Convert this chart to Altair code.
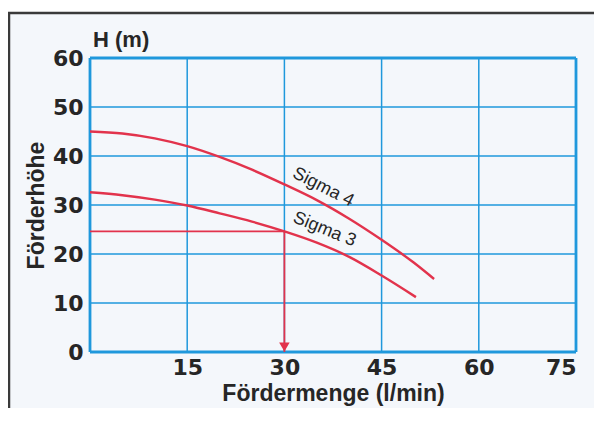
import altair as alt
import pandas as pd

# ---- data ----
sigma4_x = [0, 5, 10, 15, 20, 25, 30, 35, 40, 45, 50, 53.1]
sigma4_y = [45.0, 44.6, 43.6, 42.0, 39.8, 37.2, 34.2, 31.0, 27.2, 22.9, 18.2, 14.9]
sigma3_x = [0, 5, 10, 15, 20, 25, 30, 35, 40, 45, 50.3]
sigma3_y = [32.6, 32.0, 31.1, 29.9, 28.3, 26.6, 24.6, 22.3, 19.4, 15.6, 11.2]

duty_q = 30      # l/min
duty_h = 24.6    # m

x_grid = [0, 15, 30, 45, 60, 75]
y_grid = [0, 10, 20, 30, 40, 50, 60]
x_labels = [15, 30, 45, 60, 75]
y_labels = [0, 10, 20, 30, 40, 50, 60]

curve_names = ["Sigma 4", "Sigma 3"]
label_x = [36.0, 36.2]
label_y = [33.6, 25.0]
label_angle = [27, 22]

y_unit = "H (m)"

# ---- styles ----
BLUE = "#1f98dc"
RED = "#e2334c"
INK = "#262626"
BG = "#f4f7fb"
FONT = "Liberation Sans"
NUMFONT = "DejaVu Sans"

W, H = 486, 294

curves = pd.DataFrame(
    [{"name": "Sigma 4", "q": q, "h": h} for q, h in zip(sigma4_x, sigma4_y)]
    + [{"name": "Sigma 3", "q": q, "h": h} for q, h in zip(sigma3_x, sigma3_y)]
)
labels = pd.DataFrame({"name": curve_names, "q": label_x, "h": label_y, "angle": label_angle})

xs = alt.Scale(domain=[0, 75], nice=False, zero=False)
ys = alt.Scale(domain=[0, 60], nice=False, zero=False)

x_axis = alt.Axis(
    values=x_labels, grid=False, domain=False, ticks=False, labelPadding=5,
    labelFont=NUMFONT, labelFontSize=22, labelFontWeight="bold", labelColor=INK,
    title="Fördermenge (l/min)", titleFont=FONT, titleFontSize=23, titleFontWeight=900,
    titleColor=INK, titlePadding=4, zindex=1,
)
y_axis = alt.Axis(
    values=y_labels, grid=False, domain=False, ticks=False, labelPadding=7,
    labelFont=NUMFONT, labelFontSize=22, labelFontWeight="bold", labelColor=INK,
    title="Förderhöhe", titleFont=FONT, titleFontSize=23, titleFontWeight=900,
    titleColor=INK, titlePadding=4, zindex=1,
)

one = pd.DataFrame({"a": [0]})

# outer frame / background panel
frame = alt.Chart(one).mark_rect(fill=BG, stroke="#3a3a3a", strokeWidth=2.5).encode(
    x=alt.value(-81), x2=alt.value(W + 200), y=alt.value(-45), y2=alt.value(H + 200)
)

vgrid = alt.Chart(pd.DataFrame({"q": x_grid})).mark_rule(color=BLUE, strokeWidth=1.5).encode(
    x=alt.X("q:Q", scale=xs, axis=x_axis),
    y=alt.value(0), y2=alt.value(H),
)
hgrid = alt.Chart(pd.DataFrame({"h": y_grid})).mark_rule(color=BLUE, strokeWidth=1.5).encode(
    y=alt.Y("h:Q", scale=ys, axis=y_axis),
    x=alt.value(0), x2=alt.value(W),
)
vborder = alt.Chart(pd.DataFrame({"q": [x_grid[0], x_grid[-1]]})).mark_rule(color=BLUE, strokeWidth=2.8).encode(
    x=alt.X("q:Q", scale=xs), y=alt.value(0), y2=alt.value(H),
)
hborder = alt.Chart(pd.DataFrame({"h": [y_grid[0], y_grid[-1]]})).mark_rule(color=BLUE, strokeWidth=2.8).encode(
    y=alt.Y("h:Q", scale=ys), x=alt.value(0), x2=alt.value(W),
)

lines = alt.Chart(curves).mark_line(color=RED, strokeWidth=2.4, interpolate="monotone").encode(
    x=alt.X("q:Q", scale=xs),
    y=alt.Y("h:Q", scale=ys),
    detail="name:N",
)

duty_h_line = alt.Chart(pd.DataFrame({"q0": [0], "q1": [duty_q], "h": [duty_h]})).mark_rule(
    color=RED, strokeWidth=1.8
).encode(x=alt.X("q0:Q", scale=xs), x2="q1:Q", y=alt.Y("h:Q", scale=ys))

duty_v_line = alt.Chart(pd.DataFrame({"q": [duty_q], "h0": [duty_h], "h1": [0]})).mark_rule(
    color=RED, strokeWidth=1.8
).encode(x=alt.X("q:Q", scale=xs), y=alt.Y("h0:Q", scale=ys), y2="h1:Q")

arrow = alt.Chart(pd.DataFrame({"q": [duty_q], "h": [0]})).mark_point(
    shape="triangle-down", filled=True, color=RED, size=110, opacity=1, yOffset=-5
).encode(x=alt.X("q:Q", scale=xs), y=alt.Y("h:Q", scale=ys))

texts = alt.Chart(labels).mark_text(
    font=FONT, fontSize=18, color=INK, align="center", baseline="middle"
).encode(
    x=alt.X("q:Q", scale=xs), y=alt.Y("h:Q", scale=ys), text="name:N",
    angle=alt.Angle("angle:Q", scale=None),
)

unit = alt.Chart(pd.DataFrame({"t": [y_unit]})).mark_text(
    font=FONT, fontSize=22, fontWeight=900, color=INK, align="left", baseline="alphabetic"
).encode(x=alt.value(3), y=alt.value(-11), text="t:N")

chart = alt.layer(
    frame, vgrid, hgrid, vborder, hborder, lines, duty_h_line, duty_v_line, arrow, texts, unit
).properties(
    width=W, height=H,
    autosize=alt.AutoSizeParams(type="none"),
    padding={"left": 82, "top": 50, "right": 18, "bottom": 56},
    background="white",
).configure_view(stroke=None)

chart.save("out.html", embed_options={"renderer": "svg", "actions": False})
